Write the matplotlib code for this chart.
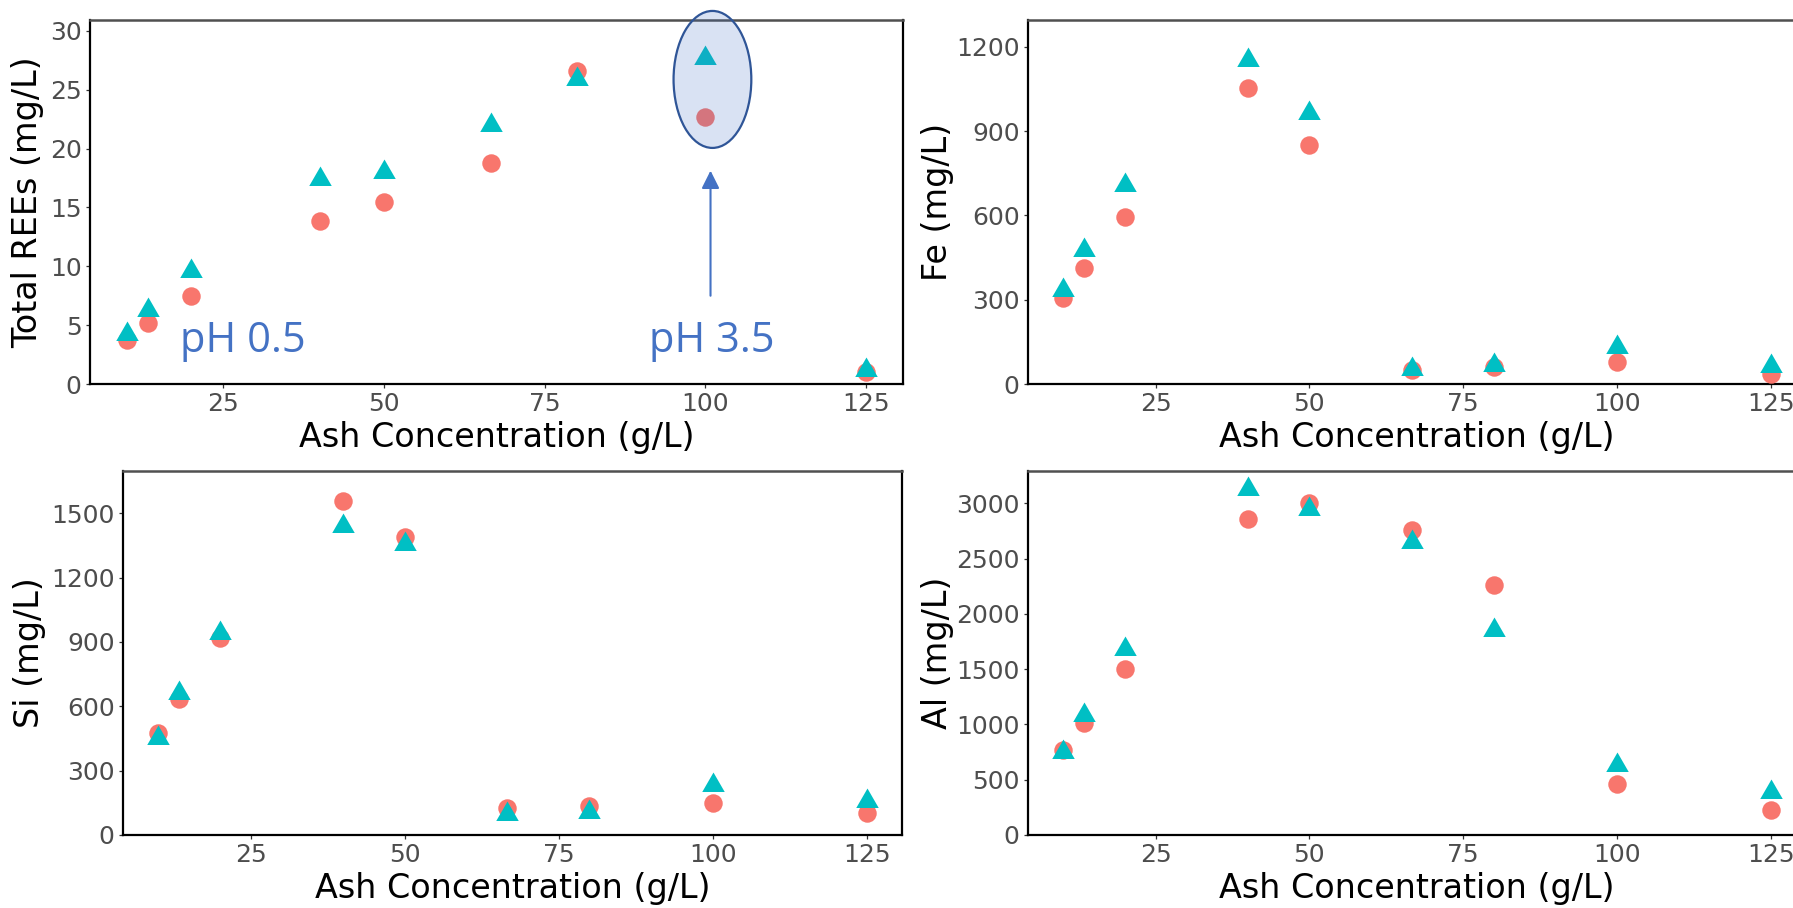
import matplotlib
matplotlib.use("Agg")
import matplotlib.pyplot as plt
from matplotlib.patches import Ellipse, FancyArrowPatch, ArrowStyle

# Ash concentration (g/L) for every leach test
ash_conc = [10, 13.33, 20, 40, 50, 66.67, 80, 100, 125]

# Dissolved concentrations (mg/L) for the two leach series
ree_a = [3.74, 5.16, 7.48, 13.85, 15.44, 18.75, 26.6, 22.66, 1.0]
ree_b = [4.25, 6.29, 9.58, 17.42, 17.99, 22.0, 25.92, 27.7, 1.2]
fe_a = [305, 414, 595, 1052, 850, 50, 62, 77, 36]
fe_b = [333, 477, 709, 1154, 964, 55, 69, 132, 64]
si_a = [474, 634, 917, 1556, 1388, 126, 134, 148, 101]
si_b = [454, 662, 942, 1439, 1358, 100, 106, 233, 157]
al_a = [771, 1017, 1501, 2858, 3000, 2758, 2261, 461, 229]
al_b = [751, 1085, 1682, 3126, 2951, 2646, 1857, 636, 392]

x_ticks = [25, 50, 75, 100, 125]
x_title = "Ash Concentration (g/L)"

panels = [
    dict(a=ree_a, b=ree_b, ylabel="Total REEs (mg/L)", ylim=30.93, yticks=[0, 5, 10, 15, 20, 25, 30],
         box=(90, 903, 20, 384), ylab_x=28),
    dict(a=fe_a, b=fe_b, ylabel="Fe (mg/L)", ylim=1295, yticks=[0, 300, 600, 900, 1200],
         box=(1028, 1806, 20, 384), ylab_x=937),
    dict(a=si_a, b=si_b, ylabel="Si (mg/L)", ylim=1697, yticks=[0, 300, 600, 900, 1200, 1500],
         box=(123, 902, 471, 835), ylab_x=29),
    dict(a=al_a, b=al_b, ylabel="Al (mg/L)", ylim=3292, yticks=[0, 500, 1000, 1500, 2000, 2500, 3000],
         box=(1028, 1806, 471, 835), ylab_x=937),
]

W, H = 1793, 908
DPI = 100
fig = plt.figure(figsize=(W / DPI, H / DPI), dpi=DPI)

RED = "#F8766D"
CYAN = "#00BFC4"
ANNOT = "#4472C4"
# triangle centred on its centroid
tri = [(0, 1), (-0.866, -0.5), (0.866, -0.5), (0, 1)]

axes = []
for p in panels:
    l, r, t, b = p["box"]
    ax = fig.add_axes([l / W, 1 - b / H, (r - l) / W, (b - t) / H])
    ax.plot(ash_conc, p["a"], linestyle="none", marker="o", ms=13.3, mew=0,
            color=RED, zorder=3, clip_on=False)
    ax.plot(ash_conc, p["b"], linestyle="none", marker=tri, ms=18.7, mew=0,
            color=CYAN, zorder=4, clip_on=False)
    ax.set_xlim(4.25, 130.75)
    ax.set_ylim(0, p["ylim"])
    ax.set_xticks(x_ticks)
    ax.set_xticklabels([str(v) for v in x_ticks])
    ax.set_yticks(p["yticks"])
    ax.set_yticklabels([str(v) for v in p["yticks"]])
    ax.tick_params(axis="both", labelsize=18, labelcolor="#4D4D4D", color="#333333",
                   length=3.0, width=0.9, pad=3)
    for side in ["left", "bottom", "right"]:
        ax.spines[side].set_color("black")
        ax.spines[side].set_linewidth(1.6)
    ax.spines["top"].set_color("#505050")
    ax.spines["top"].set_linewidth(1.8)
    fig.text(((l + r) / 2) / W, 1 - (b + 63) / H, x_title, ha="center", va="baseline",
             fontsize=24, color="black")
    fig.text(p["ylab_x"] / W, 1 - ((t + b) / 2) / H, p["ylabel"], ha="center", va="center",
             rotation=90, fontsize=24, color="black")
    axes.append(ax)

# pH annotations on the REE panel
ax0 = axes[0]
ax0.text(18.25, 2.74, "pH 0.5", color=ANNOT, fontsize=30, family="Open Sans",
         ha="left", va="baseline", zorder=5)
ax0.text(91.25, 2.74, "pH 3.5", color=ANNOT, fontsize=30, family="Open Sans",
         ha="left", va="baseline", zorder=5)
ax0.add_patch(Ellipse((101.1, 25.88), 12.1, 11.64, facecolor=(68 / 255, 114 / 255, 196 / 255, 0.2),
                      edgecolor="#2F5597", lw=1.6, zorder=6, clip_on=False))
ax0.add_patch(FancyArrowPatch((100.8, 7.5), (100.8, 18.13),
                              arrowstyle=ArrowStyle("-|>", head_length=10.8, head_width=5.4),
                              mutation_scale=1, lw=1.5, color=ANNOT, shrinkA=0, shrinkB=0,
                              zorder=6))

fig.savefig("out.png", dpi=DPI, facecolor="white")
